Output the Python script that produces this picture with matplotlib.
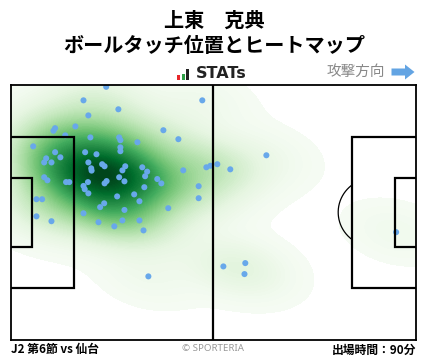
import numpy as np
import matplotlib
matplotlib.use('Agg')
from matplotlib import pyplot as plt
from matplotlib.patches import Rectangle, Polygon

plt.rcParams['font.family'] = ['Noto Sans CJK JP', 'DejaVu Sans']

# ボールタッチ位置 (ピッチ 0-100 座標, x: 左→右 攻撃方向, y: 上→下)
touch_x = [23.6, 18.0, 47.3, 19.2, 26.6, 11.0, 10.6, 16.0, 13.5, 37.7,
           41.4, 19.7, 26.8, 27.1, 31.3, 5.6, 27.1, 27.1, 11.0, 12.3,
           18.4, 21.2, 8.8, 8.3, 10.1, 19.2, 22.6, 23.2, 28.3, 27.6,
           19.9, 20.0, 32.5, 33.7, 33.2, 42.6, 48.3, 49.3, 51.0, 8.3,
           9.1, 13.7, 14.5, 26.8, 28.1, 23.7, 23.2, 19.1, 18.0, 18.3,
           36.2, 37.2, 46.4, 33.0, 19.2, 26.3, 30.5, 31.8, 6.4, 7.8,
           46.4, 23.1, 22.1, 28.1, 38.9, 6.4, 10.1, 18.0, 21.7, 25.6,
           27.6, 31.8, 32.8, 34.0, 63.1, 54.2, 52.5, 57.9, 57.7, 95.1]
touch_y = [0.9, 6.2, 6.2, 12.1, 9.7, 17.1, 18.1, 16.4, 19.9, 17.9,
           21.4, 20.7, 20.7, 21.8, 22.6, 24.2, 24.6, 26.1, 26.5, 28.5,
           26.5, 27.3, 28.9, 30.5, 30.5, 30.5, 31.2, 32.0, 32.0, 33.6,
           32.8, 33.7, 32.4, 34.1, 35.9, 33.6, 32.4, 31.8, 31.2, 36.3,
           37.5, 38.2, 38.2, 36.3, 37.9, 37.8, 38.7, 38.2, 39.7, 41.0,
           37.0, 38.7, 39.8, 40.2, 42.6, 43.8, 43.0, 45.7, 44.9, 44.9,
           44.5, 46.5, 48.0, 49.1, 48.4, 51.6, 53.5, 50.4, 53.9, 55.5,
           53.2, 53.2, 57.1, 75.1, 27.7, 33.2, 71.2, 69.9, 74.2, 57.8]

player = '上東　克典'
subtitle = 'ボールタッチ位置とヒートマップ'
match_label = 'J2 第6節 vs 仙台'
minutes_label = '出場時間：90分'

W, H = 428, 359
fig = plt.figure(figsize=(W / 100, H / 100), dpi=100)
fig.patch.set_facecolor('white')


def fx(px):
    return px / W


def fy(py):
    return 1 - py / H


# ヘッダー
fig.text(fx(214), fy(20), player, ha='center', va='center', fontsize=14.5, fontweight='bold')
fig.text(fx(214), fy(46), subtitle, ha='center', va='center', fontsize=14.5, fontweight='bold')

# STATs ロゴ
for x0, h, c in [(177, 4.5, '#e8262a'), (181.5, 6, '#2ea046'), (186, 10, '#222222')]:
    fig.patches.append(Rectangle((fx(x0), fy(79.5)), 3 / W, h / H, transform=fig.transFigure,
                                 facecolor=c, edgecolor='none'))
fig.text(fx(196), fy(74), 'STATs', ha='left', va='center', fontsize=11.5, fontweight='bold',
         family='DejaVu Sans', color='#222222')

fig.text(fx(385), fy(72), '攻撃方向', ha='right', va='center', fontsize=10.5, color='#888888')
arrow = [(391.5, 68.5), (405, 68.5), (405, 64.5), (414.5, 72), (405, 79.5), (405, 75.5), (391.5, 75.5)]
fig.patches.append(Polygon([(fx(a), fy(b)) for a, b in arrow], closed=True,
                           transform=fig.transFigure, facecolor='#63a4e3', edgecolor='none'))

# ピッチ
ax = fig.add_axes([fx(10.5), fy(340), 405.5 / W, 255.5 / H])
ax.set_xlim(0, 100)
ax.set_ylim(100, 0)
ax.set_xticks([])
ax.set_yticks([])
for s in ax.spines.values():
    s.set_linewidth(1.3)
    s.set_color('black')
    s.set_zorder(5)

# ヒートマップ (ガウスKDE)
pts = np.vstack([touch_x, touch_y])
n = pts.shape[1]
cov = np.cov(pts) * n ** (-2 / 6) * 1.1
inv = np.linalg.inv(cov)
gx, gy = np.meshgrid(np.linspace(0, 100, 301), np.linspace(0, 100, 301))
dx = gx[..., None] - pts[0]
dy = gy[..., None] - pts[1]
q = inv[0, 0] * dx * dx + 2 * inv[0, 1] * dx * dy + inv[1, 1] * dy * dy
dens = np.exp(-0.5 * q).sum(axis=-1)
dmax = dens.max()
levels = np.linspace(dmax / 100, dmax, 100)
ax.contourf(gx, gy, dens, levels=levels, cmap='Greens', vmin=0, vmax=dmax, zorder=1)

# ボールタッチ
ax.scatter(touch_x, touch_y, s=19, color='#68a8ea', edgecolors='none', zorder=3)

# ライン
lw = 1.6
pb_d, pb_w = 16.5 / 105 * 100, 40.32 / 68 * 100
ga_d, ga_w = 5.5 / 105 * 100, 18.32 / 68 * 100
ax.plot([50, 50], [0, 100], color='black', lw=lw, zorder=4)
for side in (0, 100):
    sgn = 1 if side == 0 else -1
    for d, w in [(pb_d, pb_w), (ga_d, ga_w)]:
        y0, y1 = 50 - w / 2, 50 + w / 2
        xe = side + sgn * d
        ax.plot([side, xe, xe, side], [y0, y0, y1, y1], color='black', lw=lw, zorder=4,
                solid_joinstyle='miter')

# ペナルティアーク (右側)
t = np.linspace(0, 2 * np.pi, 400)
ax_x = 100 - 11 / 105 * 100 + 9.15 / 105 * 100 * np.cos(t)
ax_y = 50 + 9.15 / 68 * 100 * np.sin(t)
m = ax_x < 100 - pb_d
ax_x = np.where(m, ax_x, np.nan)
ax.plot(ax_x, ax_y, color='black', lw=0.9, zorder=4)

# フッター
fig.text(fx(11), fy(350), match_label, ha='left', va='center', fontsize=8.5, fontweight='bold')
fig.text(fx(213), fy(348.5), '© SPORTERIA', ha='center', va='center', fontsize=7,
         family=['Noto Sans', 'DejaVu Sans'], color='#999999')
fig.text(fx(416), fy(350), minutes_label, ha='right', va='center', fontsize=8.5, fontweight='bold')

fig.savefig('out.png', dpi=100, facecolor='white')
